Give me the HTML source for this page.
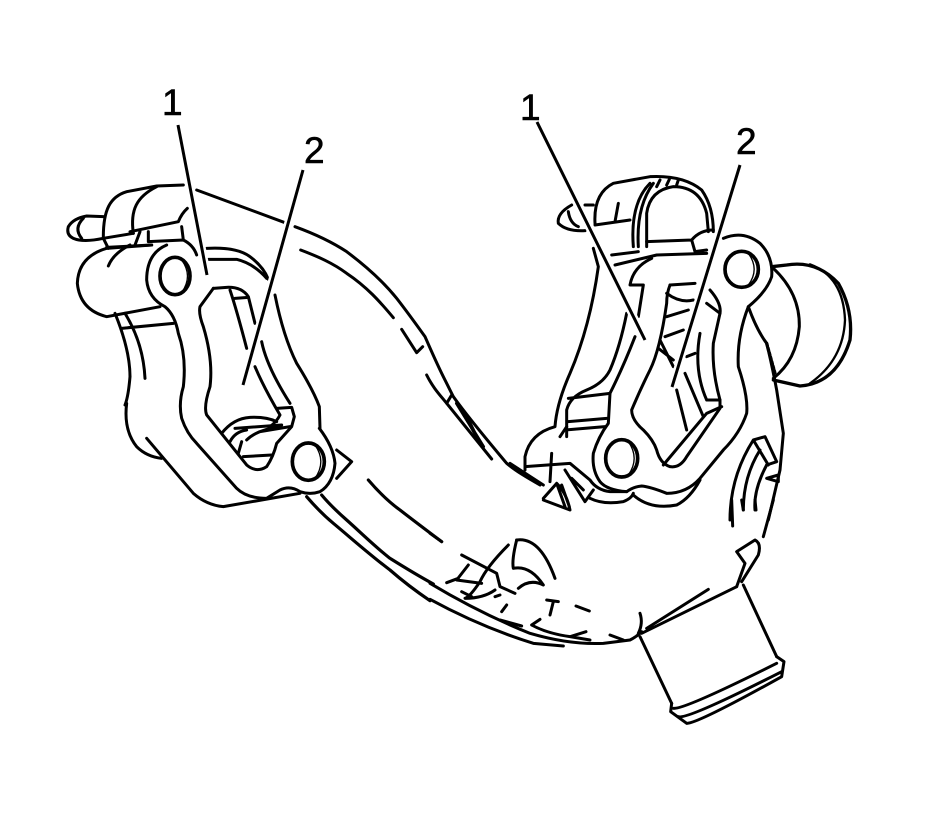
<!DOCTYPE html>
<html><head><meta charset="utf-8"><style>
html,body{margin:0;padding:0;background:#fff;width:928px;height:826px;overflow:hidden}
svg{display:block}
text{font-family:"Liberation Sans",sans-serif;font-size:37px;fill:#000;stroke:#000;stroke-width:.6px}
</style></head><body>
<svg width="928" height="826" viewBox="0 0 928 826" xmlns="http://www.w3.org/2000/svg">
<g fill="none" stroke="#000" stroke-linecap="round" stroke-linejoin="round">
<!-- upper pipe -->
<g transform="translate(280 220) scale(.33333)" stroke-width="9">
<path d="M45 20C100 40 150 62 200 95C260 140 310 185 350 235C385 280 410 315 435 350C455 395 470 430 490 470L520 530C570 600 630 670 680 730C710 755 745 775 780 795"/>
<path d="M62 90C115 110 160 130 200 160C260 200 300 245 340 293"/>
<path d="M365 328L410 398L428 380"/>
<path d="M440 465C460 505 480 525 500 550L635 717M500 550L515 525"/>
<path d="M530 550L610 680M560 590L600 670M545 570L590 650" stroke-width="10"/>
</g>
<!-- lower pipe -->
<g transform="translate(290 480) scale(.33333)" stroke-width="9.5">
<path d="M50 50C80 85 100 105 130 130C190 180 240 225 300 270C340 305 380 335 420 362"/>
<path d="M95 45C120 75 145 98 170 120C215 160 255 200 300 235C340 260 375 282 430 312"/>
<path d="M235 0C265 35 295 65 330 90C375 125 415 155 455 185"/>
</g>
<!-- left flange -->
<g transform="translate(50 170) scale(.33333)" stroke-width="9">
<path d="M160 140L110 138Q70 145 55 170Q48 195 70 205Q100 218 160 205L250 190"/>
<path d="M100 145Q70 175 95 205"/>
<path d="M160 200C160 120 180 80 230 65L320 48L400 45"/>
<path d="M250 190C240 120 260 80 320 50"/>
<path d="M160 205L175 235M240 185L385 155Q395 130 412 115"/>
<path d="M255 225L270 185M295 185L295 215L400 210Q430 225 440 255M395 170L400 210"/>
<path d="M170 232L305 225"/>
<path d="M305 225L170 235Q85 260 82 340Q90 420 170 440L330 410"/>
<path d="M175 288Q190 250 240 225"/>
<path d="M350 225Q290 250 290 330Q295 385 345 410Q375 435 385 490Q410 560 400 650Q385 700 395 745Q410 790 440 820L560 955Q590 985 650 985L690 960Q720 945 750 965Q780 975 810 965Q850 940 855 880Q850 830 808 775"/>
<path d="M675 375Q700 500 740 580Q790 660 808 710L810 775"/>
<path d="M490 355L450 410Q445 430 460 470Q490 570 480 650Q460 710 470 735L590 885Q620 910 650 890Q670 860 680 820L725 770L733 740L725 712L680 715"/>
<path d="M490 355L530 352Q575 350 595 380L615 460"/>
<path d="M635 515Q650 590 720 700M615 590Q640 650 690 735Q680 755 660 770"/>
<path d="M540 360Q560 420 590 535M555 385L595 382"/>
<path d="M515 790Q550 745 600 742Q650 740 680 755"/>
<path d="M555 775L695 765M630 785L720 770M540 815Q555 785 590 780M590 810Q620 780 690 770"/>
<path d="M580 860L665 855M575 815L565 850"/>
<ellipse cx="375" cy="318" rx="45" ry="56" stroke-width="11"/>
<path d="M395 270Q430 318 395 368" stroke-width="4"/>
<ellipse cx="775" cy="875" rx="48" ry="56" stroke-width="11"/>
<path d="M795 825Q830 875 795 925" stroke-width="4"/>
<path d="M860 840L905 875L860 925"/>
<path d="M290 805L430 970Q470 1005 520 1010L750 970"/>
<path d="M230 700Q220 780 260 830Q290 860 335 865"/>
<path d="M195 430Q240 540 240 620Q235 680 225 705"/>
<path d="M225 430Q280 520 285 625M215 475L370 460"/>
<path d="M470 235Q560 230 600 260Q640 290 655 328M475 268L560 268Q610 280 650 325"/>
<path d="M440 60L705 158"/>
</g>
<!-- right flange -->
<g transform="translate(510 170) scale(.33333)" stroke-width="9">
<path d="M640 205Q700 180 750 220Q790 260 785 320Q770 365 715 410Q680 500 685 590Q715 680 710 730Q690 790 640 840L570 925Q530 970 470 970Q420 950 395 948Q370 950 350 965Q290 960 270 935Q245 900 250 850Q265 800 295 760L300 670Q340 590 375 500"/>
<path d="M350 430Q330 530 300 600Q280 640 230 660Q180 680 170 720L170 800M175 685L300 670M175 755L290 745M165 780L285 770"/>
<path d="M250 235L265 290Q240 470 180 610Q140 700 135 770Q60 790 45 860L45 900M150 800L170 770"/>
<path d="M480 345Q470 370 470 400Q450 540 420 600Q390 660 365 720Q365 750 400 780Q430 810 440 840Q450 880 480 890Q510 895 530 860L630 715L630 690Q605 600 610 520L630 430Q635 400 600 360"/>
<path d="M480 345L555 340M570 490Q550 600 590 690M590 400L630 430M590 690L630 690M590 730L635 710M500 660L530 780M525 610L580 740M460 885L590 730M470 370Q510 400 550 390M470 440L535 420M465 500L520 480M445 535L490 570M450 510L490 590M530 560L555 550"/>
<path d="M255 160Q250 70 310 40L420 20Q520 15 575 60Q610 110 610 185"/>
<path d="M370 230Q360 100 420 40M385 230Q378 110 430 40"/>
<path d="M410 230L410 130Q420 60 490 50Q570 50 590 130L595 185"/>
<path d="M440 50L450 30M470 45L478 28M500 45L505 30"/>
<path d="M255 165L360 150M325 100L315 155M225 105L250 105M185 105Q140 130 145 160Q170 185 225 182M175 125Q180 160 205 170"/>
<path d="M410 215L545 210Q570 180 610 180M545 210L555 245L590 240"/>
<path d="M305 255L385 245M315 285L440 255L590 250"/>
<path d="M425 265Q370 290 360 345L400 345L385 440"/>
<ellipse cx="695" cy="298" rx="50" ry="54" stroke-width="11"/>
<path d="M715 250Q750 298 715 345" stroke-width="4"/>
<ellipse cx="335" cy="865" rx="48" ry="56" stroke-width="11"/>
<path d="M355 815Q390 865 355 915" stroke-width="4"/>
<path d="M785 290L830 285Q920 270 985 340Q1030 420 1020 510Q980 640 870 648L790 630" stroke-width="10"/>
<path d="M790 295Q870 370 868 470Q860 570 790 625"/>
<path d="M900 283Q1000 320 1005 450Q1000 570 900 640" stroke-width="7"/>
<path d="M715 410Q740 480 770 520Q785 580 800 660L820 790L810 900L775 1050"/>
<path d="M770 520L795 610" stroke-dasharray="8 6" stroke-width="10"/>
<path d="M660 1050Q660 920 730 810L765 800L800 875L770 885M730 810L775 885"/>
<path d="M700 1020Q700 920 750 840M735 1020Q730 960 770 885M770 925L805 915L805 935Z"/>
<path d="M45 890L180 880L240 930Q260 960 300 965L350 965M0 880L100 945M125 850L120 935"/>
<path d="M100 985L140 940Q170 970 180 1020L100 990M140 940L165 1010M155 945L178 1010"/>
<path d="M165 900L225 995L250 960M185 925L220 960"/>
<path d="M240 985Q280 1005 340 995Q365 985 370 970M370 975Q420 1020 500 1005Q540 985 570 930"/>
</g>
<!-- lower bend and outlet -->
<g transform="translate(430 500) scale(.33333)" stroke-width="9">
<path d="M0 250Q150 340 300 400Q420 435 520 430L600 420Q620 410 635 395"/>
<path d="M0 298Q150 380 310 430L400 438"/>
<path d="M635 400L920 260M650 385L835 268"/>
<path d="M630 340Q640 370 625 400"/>
<path d="M630 410L725 610M940 255L1040 470"/>
<path d="M725 610L722 635L770 670Q800 672 1055 530L1062 485L1040 470"/>
<path d="M730 625Q760 630 1040 490M745 650Q770 660 1055 515"/>
<path d="M920 260L945 190L920 155L975 120Q995 130 985 165L935 245M1000 110L1030 0"/>
<path d="M905 0L908 78M935 0L940 30M975 0L978 30"/>
<path d="M235 135Q170 200 150 245Q120 290 105 295Q160 295 195 270"/>
<path d="M95 165L200 220L210 260L255 280M115 195L80 240L155 250M50 248L85 235M95 275L125 290"/>
<path d="M260 120Q245 180 250 205Q300 195 340 255Q300 235 265 265"/>
<path d="M260 120Q330 110 375 235"/>
<path d="M210 285L195 290M215 335L230 315M350 300L385 305M370 305L360 345M438 318L478 333"/>
<path d="M305 375L330 358M305 375Q350 400 420 410L468 395M420 410L480 420M210 360L275 378M540 405L580 420M0 100L35 125"/>
</g>
<!-- leaders -->
<g stroke-linecap="butt">
<path d="M178 125L207 275M303 170L243 385M537 122L645 340M740 165L672 387" stroke="#fff" stroke-width="8"/>
<path d="M178 125L207 275M303 170L243 385M537 122L645 340M740 165L672 387" stroke-width="3"/>
</g>
</g>
<text x="162" y="115">1</text>
<text x="304" y="163">2</text>
<text x="520" y="120">1</text>
<text x="736" y="154">2</text>
</svg>
</body></html>
